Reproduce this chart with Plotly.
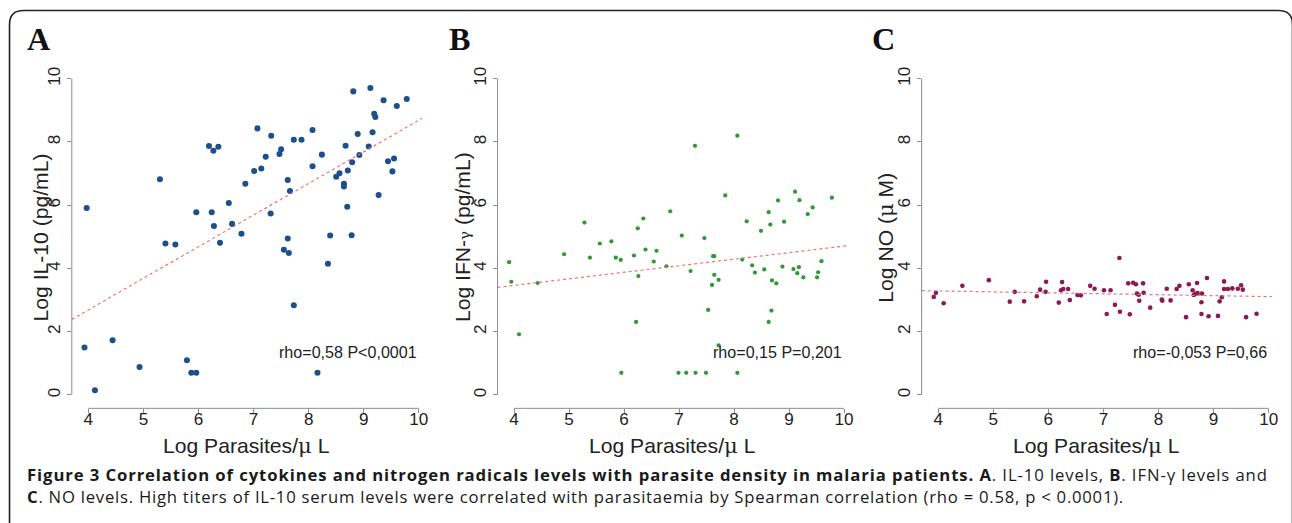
import plotly.graph_objects as go

# reference canvas (pixel coordinates below are read in this frame)
REF_W, REF_H = 1292, 523
# the page is captured slightly wider than the figure, so the figure is laid out
# on a marginally larger canvas; paper fractions stay tied to the reference frame
W, H = 1300, 526
K = W / REF_W  # font/marker size factor

# ---------------- data ----------------
a_x = [3.97, 3.93, 4.12, 4.44, 4.93, 5.30, 5.40, 5.58, 5.79, 5.87, 5.96, 5.96, 6.19, 6.27, 6.36,
       6.24, 6.28, 6.39, 6.55, 6.61, 6.78, 6.85, 7.01, 7.07, 7.14, 7.22, 7.31, 7.32, 7.47, 7.50,
       7.55, 7.62, 7.62, 7.64, 7.66, 7.73, 7.73, 7.87, 8.07, 8.07, 8.16, 8.24, 8.35, 8.39, 8.50,
       8.56, 8.64, 8.64, 8.67, 8.70, 8.71, 8.78, 8.79, 8.81, 8.89, 8.92, 9.09, 9.12, 9.16, 9.19,
       9.21, 9.27, 9.36, 9.44, 9.52, 9.55, 9.60, 9.78]
a_y = [5.91, 1.50, 0.15, 1.73, 0.88, 6.82, 4.79, 4.76, 1.10, 0.70, 0.70, 5.78, 7.87, 7.72, 7.85,
       5.78, 5.34, 4.81, 6.07, 5.41, 5.10, 6.68, 7.08, 8.43, 7.16, 7.53, 5.74, 8.20, 7.62, 7.77,
       4.59, 6.80, 4.95, 4.49, 6.45, 8.07, 2.84, 8.07, 8.38, 7.23, 0.70, 7.60, 4.15, 5.04, 6.90,
       7.01, 6.59, 6.68, 7.88, 5.95, 7.10, 5.05, 7.36, 9.60, 8.25, 7.59, 7.86, 9.71, 8.31, 8.89,
       8.79, 6.32, 9.32, 7.39, 7.07, 7.48, 9.14, 9.36]

b_x = [3.91, 3.95, 4.09, 4.43, 4.91, 5.28, 5.38, 5.56, 5.77, 5.85, 5.94, 5.95, 6.18, 6.22, 6.25,
       6.26, 6.35, 6.39, 6.54, 6.59, 6.77, 6.84, 6.99, 7.05, 7.13, 7.21, 7.29, 7.30, 7.46, 7.49,
       7.53, 7.60, 7.62, 7.64, 7.64, 7.72, 7.72, 7.84, 8.06, 8.06, 8.15, 8.23, 8.33, 8.38, 8.49,
       8.55, 8.63, 8.63, 8.66, 8.68, 8.69, 8.77, 8.80, 8.88, 8.91, 9.08, 9.11, 9.15, 9.18, 9.19,
       9.26, 9.34, 9.43, 9.51, 9.53, 9.59, 9.78]
b_y = [4.20, 3.58, 1.92, 3.54, 4.45, 5.45, 4.34, 4.79, 4.86, 4.34, 4.27, 0.70, 4.41, 2.31, 5.27,
       3.76, 5.58, 4.60, 4.22, 4.56, 4.07, 5.81, 0.70, 5.04, 0.70, 3.92, 7.88, 0.70, 4.96, 0.70,
       2.69, 3.48, 4.39, 4.39, 3.80, 3.64, 1.57, 6.31, 8.20, 0.70, 4.28, 5.49, 4.10, 3.87, 5.19,
       3.97, 5.78, 2.31, 5.39, 2.67, 3.62, 3.53, 6.15, 4.06, 5.48, 3.98, 6.43, 3.85, 4.04, 6.16,
       3.72, 5.72, 5.93, 3.72, 3.88, 4.23, 6.24]

c_x = [3.92, 3.96, 4.10, 4.44, 4.92, 5.30, 5.39, 5.56, 5.79, 5.85, 5.95, 5.96, 6.19, 6.23, 6.25,
       6.27, 6.36, 6.39, 6.53, 6.59, 6.76, 6.84, 7.01, 7.06, 7.13, 7.21, 7.29, 7.30, 7.45, 7.48,
       7.54, 7.59, 7.61, 7.64, 7.65, 7.72, 7.73, 7.85, 8.06, 8.07, 8.15, 8.22, 8.33, 8.38, 8.50,
       8.55, 8.62, 8.64, 8.67, 8.70, 8.71, 8.78, 8.78, 8.79, 8.88, 8.91, 9.08, 9.11, 9.15, 9.19,
       9.19, 9.26, 9.34, 9.44, 9.50, 9.53, 9.59, 9.78]
c_y = [3.10, 3.23, 2.90, 3.45, 3.63, 2.95, 3.26, 2.96, 3.12, 3.33, 3.26, 3.58, 2.92, 3.31, 3.57,
       3.35, 3.35, 3.00, 3.16, 3.15, 3.45, 3.36, 3.31, 2.56, 3.31, 2.85, 4.33, 2.63, 3.53, 2.55,
       3.55, 3.50, 3.21, 3.17, 2.98, 3.53, 3.23, 2.76, 3.02, 2.98, 3.36, 2.99, 3.35, 3.45, 2.46,
       3.50, 3.31, 3.16, 3.20, 3.54, 3.22, 2.93, 2.56, 3.21, 3.70, 2.49, 2.50, 2.96, 3.09, 3.59,
       3.35, 3.35, 3.37, 3.36, 3.47, 3.33, 2.46, 2.57]

fit_intercepts = [-1.31, 2.637, 3.41]
fit_slopes = [1.00, 0.207, -0.030]

panel_letters = ["A", "B", "C"]
y_titles = ["Log IL-10 (pg/mL)",
            "Log IFN-<span style='font-family:DejaVu Serif;font-size:15px'>γ</span> (pg/mL)",
            "Log NO (<span style='font-family:DejaVu Serif'>μ</span> M)"]
x_title = "Log Parasites/<span style='font-family:DejaVu Serif'>μ</span> L"
rho_texts = ["rho=0,58 P<0,0001", "rho=0,15 P=0,201", "rho=-0,053 P=0,66"]
x_ticks = [4, 5, 6, 7, 8, 9, 10]
y_ticks = [0, 2, 4, 6, 8, 10]

caption_1 = ("<b>Figure 3 Correlation of cytokines and nitrogen radicals levels with parasite density "
             "in malaria patients. A</b>. IL-10 levels, <b>B</b>. IFN-γ levels and")
caption_2 = ("<b>C</b>. NO levels. High titers of IL-10 serum levels were correlated with parasitaemia "
             "by Spearman correlation (rho = 0.58, p < 0.0001).")

# ---------------- styles ----------------
point_colors = ["#1d4f8c", "#2f9a34", "#8c1a52"]
point_sizes = [6 * K, 4.2 * K, 4.6 * K]
fit_color = "#e8737a"
axis_color = "#8c8c8c"
text_color = "#222222"
FONT = "Liberation Sans, Arial, sans-serif"
CAP_FONT = "Open Sans, sans-serif"

x_range = [3.70, 10.06]
y_range = [-0.423, 10.423]

# pixel domains (reference frame)
x_dom_px = [(71.7, 421.5), (496.8, 846.0), (920.2, 1270.0)]
y_dom_px = (65.0, 406.0)

def px_x(p):
    return p / REF_W

def px_y(p):
    return 1 - p / REF_H

fig = go.Figure()

datasets = [(a_x, a_y), (b_x, b_y), (c_x, c_y)]
annotations = []
shapes = []

for i, (xs, ys) in enumerate(datasets):
    n = "" if i == 0 else str(i + 1)
    xa, ya = "x" + n, "y" + n
    fig.add_trace(go.Scatter(
        x=xs, y=ys, mode="markers", xaxis=xa, yaxis=ya,
        marker=dict(color=point_colors[i], size=point_sizes[i], line=dict(width=0)),
        showlegend=False, hoverinfo="skip"))
    fx = x_range
    fy = [fit_intercepts[i] + fit_slopes[i] * v for v in fx]
    fig.add_trace(go.Scatter(
        x=fx, y=fy, mode="lines", xaxis=xa, yaxis=ya,
        line=dict(color=fit_color, width=1.2, dash="dot"),
        showlegend=False, hoverinfo="skip"))

    xd = [px_x(x_dom_px[i][0]), px_x(x_dom_px[i][1])]
    yd = [px_y(y_dom_px[1]), px_y(y_dom_px[0])]
    axis_common = dict(showgrid=False, zeroline=False, showline=False,
                       ticks="outside", ticklen=4, tickwidth=1, tickcolor=axis_color,
                       tickfont=dict(family=FONT, size=17 * K, color=text_color), fixedrange=True)
    fig.update_layout(**{
        ("xaxis" + n): dict(domain=xd, range=x_range, tickvals=x_ticks, anchor=ya,
                            ticklabelstandoff=-9, **axis_common),
        ("yaxis" + n): dict(domain=yd, range=y_range, tickvals=y_ticks, anchor=xa,
                            tickangle=-90, **axis_common),
    })

    # R-style detached axis lines
    shapes.append(dict(type="line", xref=xa, yref=ya + " domain", x0=4, x1=10, y0=0, y1=0,
                       line=dict(color=axis_color, width=1)))
    shapes.append(dict(type="line", xref=xa + " domain", yref=ya, x0=0, x1=0, y0=0, y1=10,
                       line=dict(color=axis_color, width=1)))

    # panel letter
    letter_x = [39, 459, 882][i]
    annotations.append(dict(text="<b>" + panel_letters[i] + "</b>", xref="paper", yref="paper",
                            x=px_x(letter_x), y=px_y(39), xanchor="center", yanchor="middle",
                            showarrow=False,
                            font=dict(family="Liberation Serif, Times New Roman, serif",
                                      size=32 * K, color="#111111"), ))
    # y title
    ytitle_x = [40, 462, 884][i]
    annotations.append(dict(text=y_titles[i], xref="paper", yref="paper",
                            x=px_x(ytitle_x), y=px_y(236), xanchor="center", yanchor="middle",
                            textangle=-90, showarrow=False,
                            font=dict(family=FONT, size=21 * K, color=text_color)))
    # x title
    annotations.append(dict(text=x_title, xref="paper", yref="paper",
                            x=(xd[0] + xd[1]) / 2, y=px_y(443), xanchor="center", yanchor="middle",
                            showarrow=False, font=dict(family=FONT, size=21 * K, color=text_color)))
    # rho text
    annotations.append(dict(text=rho_texts[i], xref=xa, yref=ya, x=10, y=1.36,
                            xanchor="right", yanchor="middle", showarrow=False,
                            font=dict(family=FONT, size=16 * K, color=text_color)))

# caption (one two-line text block)
caption = ("<span style='letter-spacing:0.9px'>" + caption_1 + "</span><br>"
           "<span style='letter-spacing:0.75px'>" + caption_2 + "</span>")
annotations.append(dict(text=caption, xref="paper", yref="paper", x=px_x(25), y=px_y(482.5),
                        xanchor="left", yanchor="middle", align="left", showarrow=False,
                        font=dict(family=CAP_FONT, size=16.6 * K, color="#1a1a1a")))

# rounded frame
L, T, R, B, r = 9.5, 10.5, 1290.5, 540, 14
path = (f"M {px_x(L)},{px_y(B)} L {px_x(L)},{px_y(T + r)} "
        f"Q {px_x(L)},{px_y(T)} {px_x(L + r)},{px_y(T)} "
        f"L {px_x(R - r)},{px_y(T)} Q {px_x(R)},{px_y(T)} {px_x(R)},{px_y(T + r)} "
        f"L {px_x(R)},{px_y(B)}")
shapes.append(dict(type="path", xref="paper", yref="paper", path=path,
                   line=dict(color="#222222", width=1.6)))

fig.update_layout(width=W, height=H, margin=dict(l=0, r=0, t=0, b=0),
                  paper_bgcolor="white", plot_bgcolor="white",
                  annotations=annotations, shapes=shapes, showlegend=False)

fig.write_html("out.html", config={"displayModeBar": False},
               post_script="document.body.style.margin='0px';"
                           "document.documentElement.style.overflow='hidden';"
                           "document.body.style.overflow='hidden';")
